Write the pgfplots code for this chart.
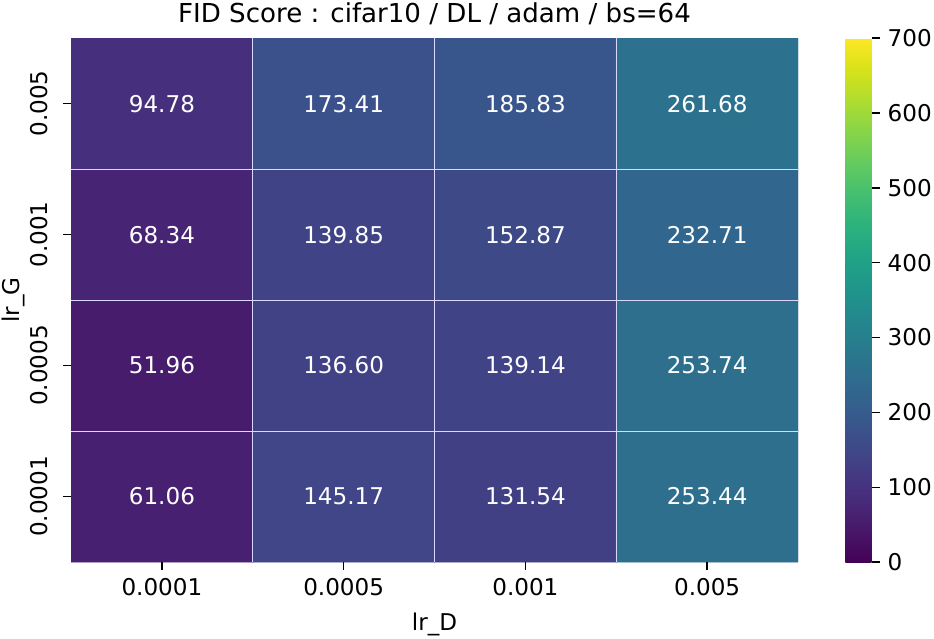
\documentclass[border=0pt]{standalone}
\usepackage{pgfplots}
\pgfplotsset{compat=1.18}
\usepackage{fontspec}
\setmainfont{DejaVu Sans}
\begin{document}
\begin{tikzpicture}
\begin{axis}[
  scale only axis,
  width=315pt, height=227pt,
  xmin=-0.5, xmax=3.5, ymin=-0.5, ymax=3.5,
  axis x line*=bottom, axis y line*=left,
  axis line style={draw=none},
  tick align=outside,
  major tick length=3.5pt,
  tick style={black, line width=0.6pt},
  xtick={0,1,2,3}, xticklabels={0.0001,0.0005,0.001,0.005},
  ytick={0,1,2,3}, yticklabels={0.0001,0.0005,0.001,0.005},
  yticklabel style={rotate=90, anchor=south, yshift=3pt},
  extra x ticks={0.5,1.5,2.5}, extra x tick labels={},
  extra y ticks={0.5,1.5,2.5}, extra y tick labels={},
  extra tick style={grid=major, major grid style={white!85!blue, line width=0.45pt}, major tick length=0pt},
  axis on top,
  /pgf/number format/assume math mode=true,
  tick label style={font=\fontsize{10}{12}\selectfont},
  title={FID Score : cifar10 / DL / adam / bs=64},
  title style={font=\fontsize{11.3}{13}\selectfont, inner sep=1pt, yshift=-1.3pt},
  xlabel={lr\_D}, ylabel={lr\_G},
  xlabel style={inner sep=1pt, yshift=0.5pt},
  ylabel style={inner sep=1pt, yshift=-5.8pt},
  label style={font=\fontsize{10}{12}\selectfont},
  colormap/viridis,
  point meta min=0, point meta max=700,
  colorbar,
  colorbar style={
    scale only axis,
    at={(parent axis.north east)}, anchor=north west, xshift=12pt,
    width=11.3pt,
    ytick={0,100,...,700},
    axis line style={draw=none},
    tick align=outside,
    major tick length=3.5pt,
    tick style={black, line width=0.6pt},
    ytick pos=right,
    yticklabel pos=right,
    /pgf/number format/assume math mode=true,
    yticklabel style={font=\fontsize{10}{12}\selectfont, inner xsep=1pt, xshift=2.3pt},
  },
]
\addplot[matrix plot*, mesh/cols=4, point meta=explicit] table[meta=c] {
x y c
0 0 61.06
1 0 145.17
2 0 131.54
3 0 253.44
0 1 51.96
1 1 136.60
2 1 139.14
3 1 253.74
0 2 68.34
1 2 139.85
2 2 152.87
3 2 232.71
0 3 94.78
1 3 173.41
2 3 185.83
3 3 261.68
};
\addplot[only marks, mark=none, point meta=explicit,
  nodes near coords={\pgfmathprintnumber[fixed,precision=2,fixed zerofill]{\pgfplotspointmeta}},
  every node near coord/.append style={anchor=center, text=white, font=\fontsize{10}{12}\selectfont, /pgf/number format/assume math mode=true}
] table[meta=c] {
x y c
0 0 61.06
1 0 145.17
2 0 131.54
3 0 253.44
0 1 51.96
1 1 136.60
2 1 139.14
3 1 253.74
0 2 68.34
1 2 139.85
2 2 152.87
3 2 232.71
0 3 94.78
1 3 173.41
2 3 185.83
3 3 261.68
};
\end{axis}
\end{tikzpicture}
\end{document}
